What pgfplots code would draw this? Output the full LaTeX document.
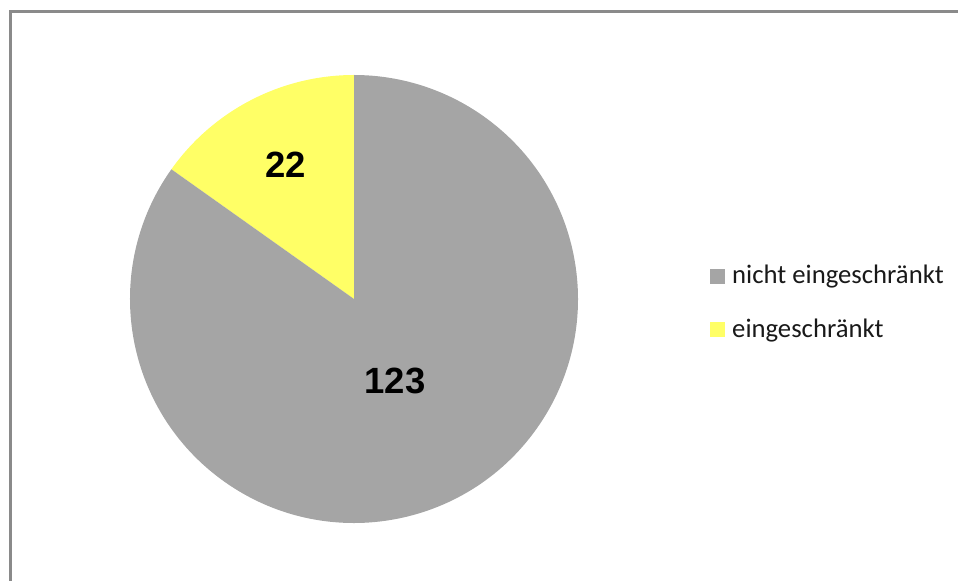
\documentclass[border=0pt]{standalone}
\usepackage{pgfplots}
\pgfplotsset{compat=1.18}
\usepackage{fontspec}
\setmainfont{Carlito}
\newfontfamily\arialfont{Liberation Sans}
\definecolor{piegray}{HTML}{A5A5A5}
\definecolor{pieyellow}{HTML}{FFFF66}
\definecolor{framegray}{HTML}{8A8A8A}
% data
\def\valA{123}% nicht eingeschraenkt
\def\valB{22}% eingeschraenkt
\begin{document}
\begin{tikzpicture}
\pgfmathsetmacro{\total}{\valA+\valB}
\pgfmathsetmacro{\angB}{360*\valB/\total}
\pgfmathsetmacro{\endB}{90+\angB}
\begin{axis}[
  x=1bp, y=1bp, y dir=reverse,
  xmin=0, xmax=958, ymin=0, ymax=581,
  scale only axis, clip=true,
  axis line style={draw=none}, xtick=\empty, ytick=\empty,
]
\path (axis cs:0,0) rectangle (axis cs:958,581);
% frame (left and top edges; the rest lies outside the picture)
\draw[framegray, line width=3bp] (axis cs:10.5,581) -- (axis cs:10.5,11.5) -- (axis cs:958,11.5);
% slices
\fill[pieyellow] (axis cs:354,299) -- ++(90:224bp) arc[start angle=90, end angle=\endB, radius=224bp] -- cycle;
\fill[piegray] (axis cs:354,299) -- ++(\endB:224bp) arc[start angle=\endB, end angle=450, radius=224bp] -- cycle;
% labels
\node[font=\arialfont\bfseries\fontsize{36.5bp}{40bp}\selectfont] at (axis cs:286,165) {\valB};
\node[font=\arialfont\bfseries\fontsize{36.5bp}{40bp}\selectfont] at (axis cs:395,381) {\valA};
% legend
\fill[piegray] (axis cs:710,269) rectangle (axis cs:725,284);
\fill[pieyellow] (axis cs:710,322) rectangle (axis cs:725,337);
\node[anchor=base west, inner sep=0pt, font=\fontsize{26.7bp}{30bp}\selectfont, text=black!90] at (axis cs:732,284) {nicht eingeschränkt};
\node[anchor=base west, inner sep=0pt, font=\fontsize{26.7bp}{30bp}\selectfont, text=black!90] at (axis cs:732,337) {eingeschränkt};
\end{axis}
\end{tikzpicture}
\end{document}
